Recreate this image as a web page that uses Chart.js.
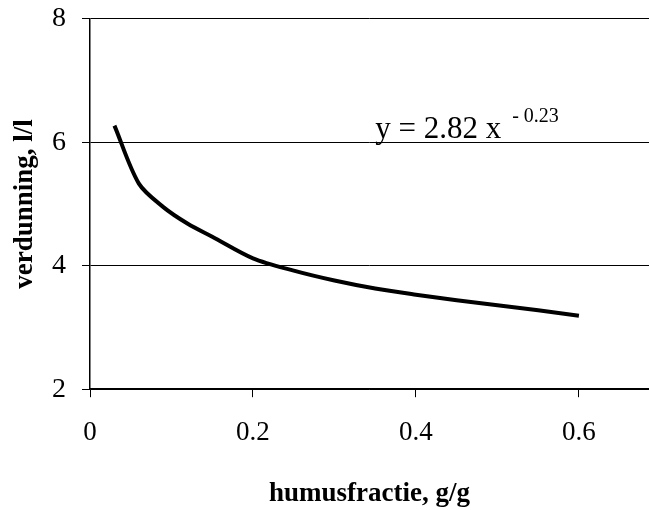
<!DOCTYPE html>
<html>
<head>
<meta charset="utf-8">
<script src="https://cdn.jsdelivr.net/npm/chart.js@4.4.0/dist/chart.umd.min.js"></script>
<style>
  html, body { margin: 0; padding: 0; background: #fff; }
  #wrap { width: 649px; height: 510px; }
</style>
</head>
<body>
<div id="wrap"><canvas id="chart" width="649" height="510"></canvas></div>
<script>
// values
const humus = [0.03, 0.06, 0.09, 0.12, 0.15, 0.2, 0.25, 0.3, 0.35, 0.4, 0.45, 0.5, 0.55, 0.6];
const verdunning = [6.27, 5.33, 4.95, 4.68, 4.47, 4.12, 3.92, 3.76, 3.63, 3.53, 3.44, 3.36, 3.28, 3.19];
const yTicks = [2, 4, 6, 8];
const xTicks = [0, 0.2, 0.4, 0.6];
const equation = 'y = 2.82 x';
const exponent = '- 0.23';

const serif = "'Liberation Serif', 'Times New Roman', serif";

// draws the fitted equation text
const equationLabel = {
  id: 'equationLabel',
  afterDatasetsDraw(chart) {
    const c = chart.ctx;
    const x = chart.scales.x.getPixelForValue(0.35);
    const y = chart.scales.y.getPixelForValue(6) - 4;
    c.save();
    c.fillStyle = '#000';
    c.textBaseline = 'alphabetic';
    c.font = '31px ' + serif;
    c.fillText(equation, x, y);
    const w = c.measureText(equation).width;
    c.font = '20px ' + serif;
    c.fillText(exponent, x + w + 11, y - 16);
    c.restore();
  }
};

const ctx = document.getElementById('chart').getContext('2d');
new Chart(ctx, {
  type: 'line',
  data: {
    datasets: [{
      data: humus.map((h, i) => ({ x: h, y: verdunning[i] })),
      borderColor: '#000',
      borderWidth: 4,
      pointRadius: 0,
      tension: 0.3,
      fill: false
    }]
  },
  options: {
    responsive: false,
    animation: false,
    layout: { padding: { top: 0, right: 0, left: 12, bottom: 0 } },
    plugins: { legend: { display: false }, tooltip: { enabled: false } },
    scales: {
      x: {
        type: 'linear',
        min: 0,
        max: 0.686,
        afterBuildTicks: axis => { axis.ticks = xTicks.map(v => ({ value: v })); },
        ticks: {
          color: '#000',
          font: { family: serif, size: 27 },
          padding: 20,
          maxRotation: 0,
          callback: v => v === 0 ? '0' : v.toFixed(1)
        },
        grid: {
          drawOnChartArea: false,
          drawTicks: true,
          tickLength: 8,
          color: '#000'
        },
        border: { display: true, color: '#000', width: 1.5 },
        title: {
          display: true,
          text: 'humusfractie, g/g',
          color: '#000',
          font: { family: serif, size: 27, weight: 'bold' },
          padding: { top: 8, bottom: 0 }
        }
      },
      y: {
        min: 2,
        max: 8,
        afterBuildTicks: axis => { axis.ticks = yTicks.map(v => ({ value: v })); },
        ticks: {
          color: '#000',
          font: { family: serif, size: 28, lineHeight: 0.2 },
          padding: 16
        },
        grid: {
          drawOnChartArea: true,
          drawTicks: true,
          tickLength: 8,
          color: '#000',
          lineWidth: 1
        },
        border: { display: true, color: '#000', width: 1.5 },
        title: {
          display: true,
          text: 'verdunning, l/l',
          color: '#000',
          font: { family: serif, size: 27, weight: 'bold', lineHeight: 1 },
          padding: { top: 0, bottom: -3 }
        }
      }
    }
  },
  plugins: [equationLabel]
});
</script>
</body>
</html>
